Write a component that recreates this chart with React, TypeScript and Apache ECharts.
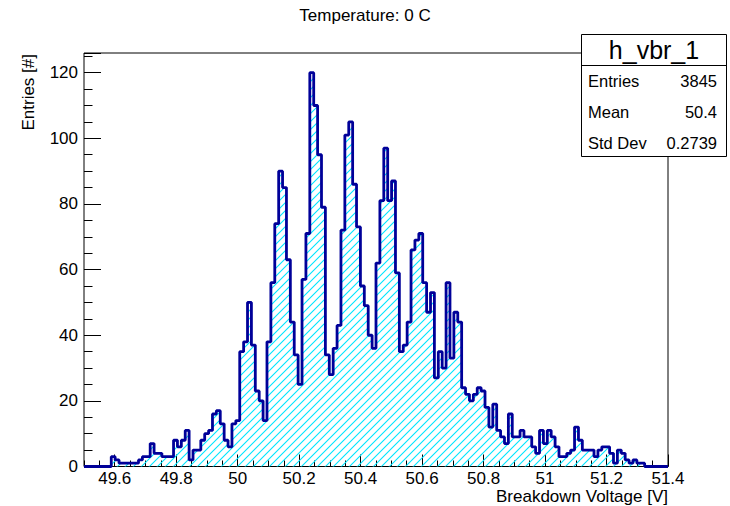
import { useEffect, useRef } from 'react';
import * as echarts from 'echarts';

// Histogram range and contents (150 equal-width bins)
const X_MIN = 49.5;
const X_MAX = 51.4;
const Y_MAX = 126;

const counts = [
  0, 0, 0, 0, 0, 0, 0, 3, 2, 1,
  1, 1, 1, 1, 2, 3, 3, 7, 4, 4,
  3, 3, 3, 8, 6, 8, 11, 2, 5, 5,
  8, 10, 11, 16, 17, 13, 8, 6, 13, 14,
  35, 38, 50, 37, 23, 20, 14, 38, 56, 74,
  90, 85, 63, 44, 34, 25, 57, 71, 120, 110,
  95, 79, 34, 28, 36, 43, 72, 101, 105, 86,
  73, 55, 49, 40, 36, 62, 81, 97, 81, 87,
  59, 35, 37, 44, 66, 69, 71, 56, 47, 53,
  27, 35, 30, 56, 33, 47, 44, 24, 22, 20,
  22, 24, 23, 18, 12, 19, 11, 9, 7, 16,
  9, 9, 11, 9, 9, 6, 4, 11, 7, 11,
  9, 6, 3, 3, 4, 5, 12, 8, 5, 5,
  5, 3, 5, 6, 6, 4, 1, 5, 4, 2,
  1, 2, 1, 1, 0, 0, 0, 0, 0, 0,
];

const xMajorTicks = [49.6, 49.8, 50, 50.2, 50.4, 50.6, 50.8, 51, 51.2, 51.4];
const xMinorStep = 0.05;
const yMajorStep = 20;
const yMinorStep = 5;

const titleText = 'Temperature: 0 C';
const xTitle = 'Breakdown Voltage [V]';
const yTitle = 'Entries [#]';
const histName = 'h_vbr_1';
const statLabels = ['Entries', 'Mean', 'Std Dev'];
const statValues = ['3845', '50.4', '0.2739'];

const FONT = '"Liberation Sans", Arial, Helvetica, sans-serif';
const LINE_COLOR = '#000099';
const HATCH_COLOR = 'rgb(0, 229, 255)';
const HATCH_STEP = 8;

const GRID = { left: 84, top: 53, width: 584, height: 413.5 };

// Square tile with one "/" stroke, repeated to hatch the area under the histogram
function makeHatchTile(): HTMLCanvasElement {
  const c = document.createElement('canvas');
  c.width = HATCH_STEP;
  c.height = HATCH_STEP;
  const ctx = c.getContext('2d')!;
  ctx.strokeStyle = HATCH_COLOR;
  ctx.lineWidth = 1.1;
  ctx.beginPath();
  ctx.moveTo(-1, HATCH_STEP + 1);
  ctx.lineTo(HATCH_STEP + 1, -1);
  ctx.moveTo(-1, 1);
  ctx.lineTo(1, -1);
  ctx.moveTo(HATCH_STEP - 1, HATCH_STEP + 1);
  ctx.lineTo(HATCH_STEP + 1, HATCH_STEP - 1);
  ctx.stroke();
  return c;
}

export default function App() {
  const ref = useRef<HTMLDivElement>(null);

  useEffect(() => {
    const el = ref.current;
    if (!el) return;
    const chart = echarts.init(el, null, { renderer: 'svg' });

    const binWidth = (X_MAX - X_MIN) / counts.length;
    const outline: number[][] = counts.map((c, i) => [X_MIN + i * binWidth, c]);
    outline.push([X_MAX, counts[counts.length - 1]], [X_MAX, 0]);

    const tile = makeHatchTile();
    const hatchPattern = {
      image: tile.toDataURL(),
      repeat: 'repeat',
      imageWidth: HATCH_STEP,
      imageHeight: HATCH_STEP,
    };

    const tickLine = { color: '#000', width: 1 };
    const labelStyle = { fontSize: 17, color: '#000', fontFamily: FONT };

    const option: any = {
      animation: false,
      backgroundColor: '#fff',
      textStyle: { fontFamily: FONT },
      grid: [
        { ...GRID, show: true, borderColor: '#000', borderWidth: 1, backgroundColor: 'transparent' },
        { ...GRID, show: false },
      ],
      xAxis: [
        {
          gridIndex: 0, type: 'value', min: X_MIN, max: X_MAX, interval: xMinorStep,
          axisLine: { show: false },
          axisTick: { inside: true, length: 6, lineStyle: tickLine },
          axisLabel: { show: false },
          splitLine: { show: false },
        },
        {
          gridIndex: 1, type: 'value', min: X_MIN, max: X_MAX,
          axisLine: { show: false },
          axisTick: { inside: true, length: 12, customValues: xMajorTicks, lineStyle: tickLine },
          axisLabel: {
            ...labelStyle, margin: 4, lineHeight: 15, customValues: xMajorTicks,
            formatter: (v: number) => String(Math.round(v * 10) / 10),
          },
          splitLine: { show: false },
        },
      ],
      yAxis: [
        {
          gridIndex: 0, type: 'value', min: 0, max: Y_MAX, interval: yMinorStep,
          axisLine: { show: false },
          axisTick: { inside: true, length: 8.5, lineStyle: tickLine },
          axisLabel: { show: false },
          splitLine: { show: false },
        },
        {
          gridIndex: 1, type: 'value', min: 0, max: Y_MAX, interval: yMajorStep,
          axisLine: { show: false },
          axisTick: { inside: true, length: 17, lineStyle: tickLine },
          axisLabel: {
            ...labelStyle, margin: 6,
            formatter: (v: number) => (v % yMajorStep === 0 ? String(v) : ''),
          },
          splitLine: { show: false },
        },
      ],
      series: [
        {
          type: 'line', xAxisIndex: 0, yAxisIndex: 0, silent: true, z: 3,
          data: outline, step: 'end', symbol: 'none',
          lineStyle: { color: LINE_COLOR, width: 2.8 },
          areaStyle: { color: hatchPattern, opacity: 1 },
        },
      ],
      graphic: [
        {
          type: 'text', x: 365, y: 15.5, z: 10,
          style: { text: titleText, fontSize: 17, fontFamily: FONT, fill: '#000', align: 'center', verticalAlign: 'middle' },
        },
        {
          type: 'text', x: 668, y: 496, z: 10,
          style: { text: xTitle, fontSize: 17, fontFamily: FONT, fill: '#000', align: 'right', verticalAlign: 'middle' },
        },
        {
          type: 'text', x: 28, y: 54, rotation: Math.PI / 2, z: 10,
          style: { text: yTitle, fontSize: 17, fontFamily: FONT, fill: '#000', align: 'right', verticalAlign: 'middle' },
        },
        {
          type: 'group', z: 20,
          children: [
            {
              type: 'rect', shape: { x: 581.5, y: 34.5, width: 145, height: 122 },
              style: { fill: '#fff', stroke: '#000', lineWidth: 1 },
            },
            {
              type: 'line', shape: { x1: 581.5, y1: 65.5, x2: 726.5, y2: 65.5 },
              style: { stroke: '#000', lineWidth: 1 },
            },
            {
              type: 'text', x: 654, y: 49.5,
              style: { text: histName, fontSize: 25, fontFamily: FONT, fill: '#000', align: 'center', verticalAlign: 'middle' },
            },
            ...statLabels.map((label, i) => ({
              type: 'text', x: 588, y: 80.5 + i * 31,
              style: { text: label, fontSize: 16.5, fontFamily: FONT, fill: '#000', align: 'left', verticalAlign: 'middle' },
            })),
            ...statValues.map((val, i) => ({
              type: 'text', x: 717, y: 80.5 + i * 31,
              style: { text: val, fontSize: 16.5, fontFamily: FONT, fill: '#000', align: 'right', verticalAlign: 'middle' },
            })),
          ],
        },
      ],
    };

    chart.setOption(option);
    return () => chart.dispose();
  }, []);

  return (
    <div
      ref={ref}
      style={{ position: 'fixed', left: 0, top: 0, width: 730, height: 506, background: '#fff' }}
    />
  );
}
